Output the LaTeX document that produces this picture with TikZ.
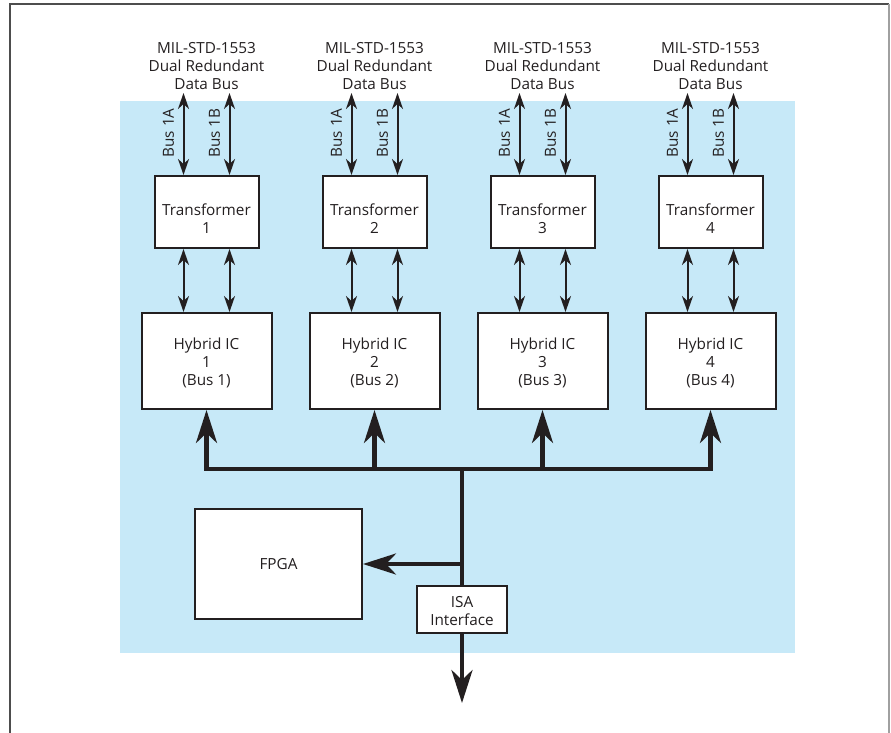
\documentclass[tikz,border=0pt]{standalone}
\usepackage{fontspec}
\setmainfont{Open Sans}
\usetikzlibrary{arrows.meta}
\definecolor{bluebg}{HTML}{C7E9F8}
\definecolor{ink}{HTML}{231F20}
\definecolor{framedark}{HTML}{4D4D4D}
\definecolor{framelight}{HTML}{A0A0A0}
\begin{document}
\begin{tikzpicture}[x=1pt,y=-1pt,
  box/.style={draw=ink, line width=2pt, fill=white, inner sep=0pt},
  boxtext/.style={text=ink, align=center, font=\fontsize{15.3}{18}\selectfont, inner sep=0pt},
  titletext/.style={text=ink, align=center, font=\fontsize{15.3}{17.8}\selectfont, inner sep=0pt},
  lbl/.style={text=ink, font=\fontsize{15.3}{16}\selectfont, inner sep=0pt},
  thinarrow/.style={draw=ink, line width=2pt,
    {Stealth[length=16pt,width=11pt,inset=5pt]}-{Stealth[length=16pt,width=11pt,inset=5pt]}},
  thickarrow/.style={draw=ink, line width=4.3pt,
    -{Stealth[length=33pt,width=21pt,inset=10pt]}},
  thickline/.style={draw=ink, line width=4.3pt}]
\useasboundingbox (0,0) rectangle (891,733);
% frame
\draw[framedark, line width=1.5pt] (10,734) -- (10,4) -- (889,4);
\draw[framelight, line width=1.5pt] (889,4) -- (889,734);
% blue background
\fill[bluebg] (120,101) rectangle (795,653);
% columns
\foreach \i in {1,2,3,4}{
  \pgfmathsetmacro\cx{206.5+168*(\i-1)}
  \node[titletext] (M\i) at (\cx,66) {MIL-STD-1553\\Dual Redundant\\Data Bus};
  \node[box, minimum width=104pt, minimum height=72pt] (T\i) at (\cx,212) {};
  \node[boxtext] (TT\i) at ([yshift=-7pt]T\i.center) {Transformer\\\i};
  \node[box, minimum width=130pt, minimum height=96pt] (H\i) at (\cx,361) {};
  \node[boxtext] (HT\i) at ([yshift=-2pt]H\i.center) {Hybrid IC\\\i\\(Bus \i)};
  \coordinate (TA\i) at (\cx-23,93);
  \coordinate (TB\i) at (\cx+23,93);
  \draw[thinarrow] (TA\i) -- (TA\i |- T\i.north);
  \draw[thinarrow] (TB\i) -- (TB\i |- T\i.north);
  \node[lbl, rotate=90] (LA\i) at (\cx-38,133) {Bus 1A};
  \node[lbl, rotate=90] (LB\i) at (\cx+8,133) {Bus 1B};
  \draw[thinarrow] ([xshift=-23pt]T\i.south) -- ([xshift=-23pt]H\i.north);
  \draw[thinarrow] ([xshift=23pt]T\i.south) -- ([xshift=23pt]H\i.north);
  \coordinate (B\i) at (\cx,469);
}
% bus bar
\draw[thickline, line cap=rect] (B1) -- (B4);
\foreach \i in {1,2,3,4}{
  \draw[thickarrow] (B\i) -- (H\i.south);
}
% FPGA and ISA
\node[box, minimum width=167pt, minimum height=110pt] (FPGA) at (278.5,564) {};
\node[boxtext] (FPGAT) at (FPGA.center) {FPGA};
\node[box, minimum width=90pt, minimum height=47pt] (ISA) at (462,609.5) {};
\node[boxtext] (ISAT) at ([yshift=-2pt]ISA.center) {ISA\\Interface};
\coordinate (J) at (462,469);
\draw[thickline] (J) -- (ISA.north);
\coordinate (K) at (ISA.north |- FPGA.east);
\draw[thickarrow] (K) -- (FPGA.east);
\coordinate (Out) at (462,703);
\draw[thickarrow] (ISA.south) -- (Out);
\end{tikzpicture}
\end{document}
